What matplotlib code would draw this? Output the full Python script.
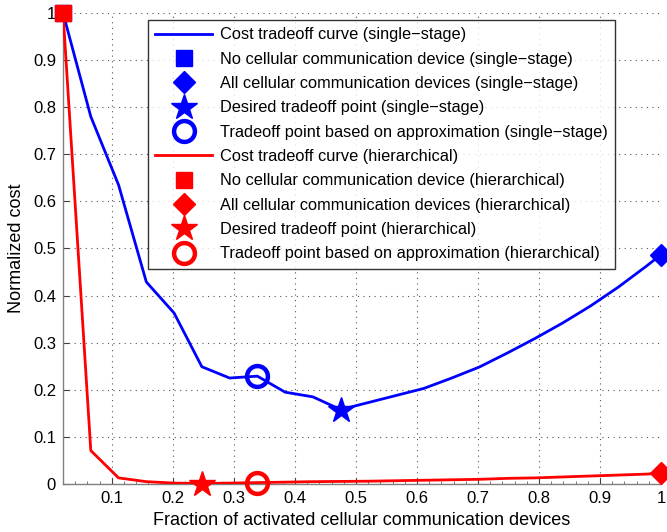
import matplotlib
matplotlib.use("Agg")
import matplotlib.pyplot as plt
from matplotlib.ticker import MultipleLocator

plt.rcParams['font.family'] = ['Liberation Sans', 'DejaVu Sans']

# Data
x_single = [0.02, 0.0655, 0.111, 0.1565, 0.202, 0.2475, 0.293, 0.3385, 0.384, 0.4295,
            0.475, 0.5205, 0.566, 0.6115, 0.657, 0.7025, 0.748, 0.7935, 0.839, 0.8845,
            0.93, 0.9755, 1.0]
y_single = [1.0, 0.78, 0.635, 0.429, 0.363, 0.249, 0.225, 0.229, 0.195, 0.185,
            0.158, 0.173, 0.188, 0.203, 0.225, 0.2485, 0.278, 0.309, 0.342, 0.378,
            0.418, 0.462, 0.487]
x_hier = x_single
y_hier = [1.0, 0.071, 0.013, 0.005, 0.002, 0.001, 0.002, 0.003, 0.004, 0.005,
          0.0055, 0.006, 0.007, 0.008, 0.009, 0.010, 0.012, 0.013, 0.015, 0.017,
          0.019, 0.021, 0.023]

none_pt = (0.02, 1.0)
all_single = (1.0, 0.487)
all_hier = (1.0, 0.023)
desired_single = (0.475, 0.158)
desired_hier = (0.2475, 0.001)
approx_single = (0.3385, 0.229)
approx_hier = (0.3385, 0.003)

xticks = [0.1, 0.2, 0.3, 0.4, 0.5, 0.6, 0.7, 0.8, 0.9, 1.0]
xticklabels = ['0.1', '0.2', '0.3', '0.4', '0.5', '0.6', '0.7', '0.8', '0.9', '1']
yticks = [0, 0.1, 0.2, 0.3, 0.4, 0.5, 0.6, 0.7, 0.8, 0.9, 1.0]
yticklabels = ['0', '0.1', '0.2', '0.3', '0.4', '0.5', '0.6', '0.7', '0.8', '0.9', '1']

fig = plt.figure(figsize=(6.67, 5.32), dpi=100)
ax = fig.add_axes([0.0945, 0.0902, 0.8965, 0.8854])

B = '#0000ff'
R = '#ff0000'
lw = 2.0

kw = dict(linestyle='none', clip_on=False, zorder=5)
ax.plot(x_single, y_single, color=B, lw=lw, label='Cost tradeoff curve (single\u2212stage)', zorder=3)
ax.plot(*none_pt, marker='s', color=B, ms=12, label='No cellular communication device (single\u2212stage)', **kw)
ax.plot(*all_single, marker='D', color=B, ms=11, label='All cellular communication devices (single\u2212stage)', **kw)
ax.plot(*desired_single, marker='*', color=B, ms=19, label='Desired tradeoff point (single\u2212stage)', **kw)
ax.plot(*approx_single, marker='o', color=B, mfc='none', mew=3.2, ms=15, label='Tradeoff point based on approximation (single\u2212stage)', **kw)
ax.plot(x_hier, y_hier, color=R, lw=lw, label='Cost tradeoff curve (hierarchical)', zorder=3)
ax.plot(*none_pt, marker='s', color=R, ms=12, label='No cellular communication device (hierarchical)', **kw)
ax.plot(*all_hier, marker='D', color=R, ms=11, label='All cellular communication devices (hierarchical)', **kw)
ax.plot(*desired_hier, marker='*', color=R, ms=19, label='Desired tradeoff point (hierarchical)', **kw)
ax.plot(*approx_hier, marker='o', color=R, mfc='none', mew=3.2, ms=15, label='Tradeoff point based on approximation (hierarchical)', **kw)

ax.set_xlim(0.02, 1.0)
ax.set_ylim(0, 1.0)
ax.set_xticks(xticks)
ax.set_xticklabels(xticklabels)
ax.set_yticks(yticks)
ax.set_yticklabels(yticklabels)
ax.xaxis.set_minor_locator(MultipleLocator(0.02))

for s in ['top', 'right']:
    ax.spines[s].set_visible(False)
for s in ['left', 'bottom']:
    ax.spines[s].set_color('#808080')
    ax.spines[s].set_linewidth(1.0)

ax.tick_params(direction='in', length=4, width=0.8, color='#404040', labelsize=12, pad=5)
ax.tick_params(which='minor', direction='in', length=2, width=0.6, color='#606060')
ax.grid(True, which='major', linestyle=(0, (1, 4)), color='#555555', lw=0.8)

ax.set_xlabel('Fraction of activated cellular communication devices', fontsize=13, labelpad=4)
ax.set_ylabel('Normalized cost', fontsize=13, labelpad=6)

leg = ax.legend(loc='upper left', bbox_to_anchor=(0.1415, 0.985), fontsize=11.8,
                frameon=True, fancybox=False, shadow=False, handlelength=3.5,
                handletextpad=0.45, labelspacing=0.57, borderpad=0.45, numpoints=1,
                borderaxespad=0)
leg.get_frame().set_edgecolor('black')
leg.get_frame().set_linewidth(1.0)
leg.set_zorder(10)

fig.savefig('out.png', dpi=100)
